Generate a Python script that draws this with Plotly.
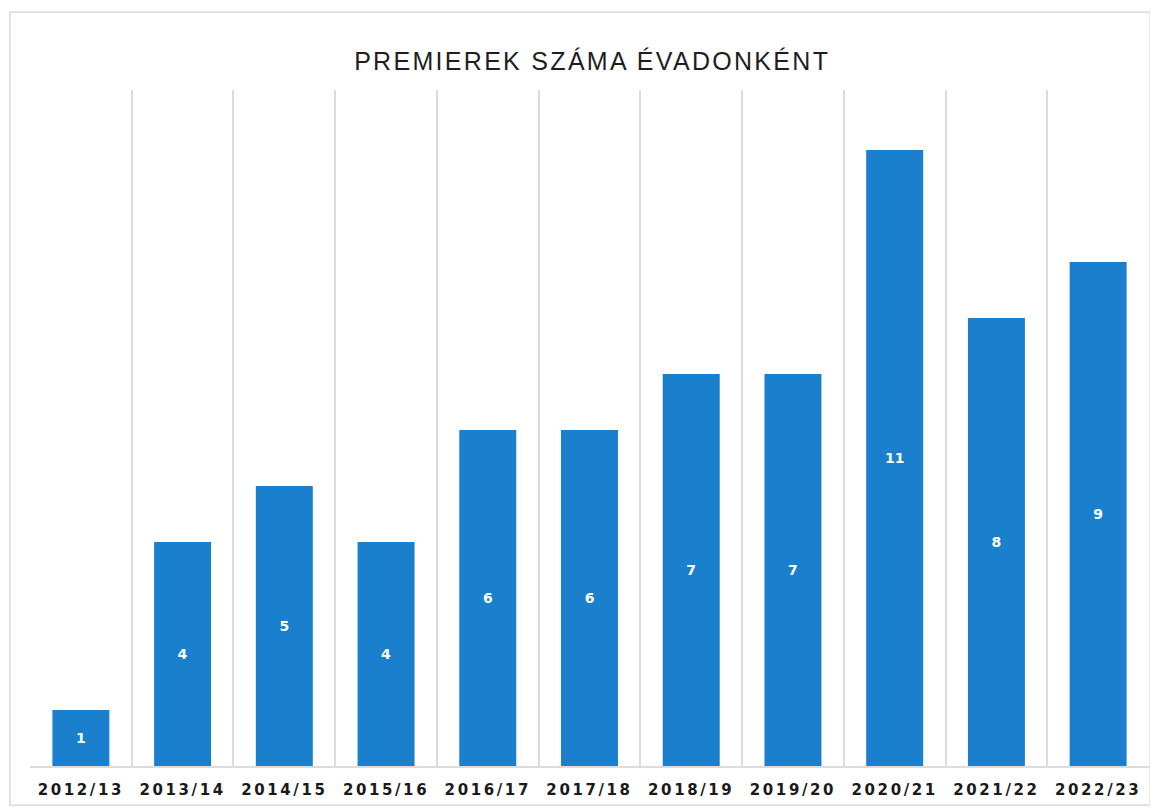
import plotly.graph_objects as go

# Premierek száma évadonként
seasons = ["2012/13", "2013/14", "2014/15", "2015/16", "2016/17", "2017/18",
           "2018/19", "2019/20", "2020/21", "2021/22", "2022/23"]
premieres = [1, 4, 5, 4, 6, 6, 7, 7, 11, 8, 9]

BAR_COLOR = "#1a7fcd"
GRID_COLOR = "#dcdcdc"

fig = go.Figure()

fig.add_trace(go.Bar(
    x=seasons,
    y=premieres,
    marker=dict(color=BAR_COLOR, line=dict(width=0)),
    text=[str(v) for v in premieres],
    textposition="inside",
    insidetextanchor="middle",
    textfont=dict(color="white", size=14, family="DejaVu Sans", weight="bold"),
    constraintext="none",
    hoverinfo="x+y",
))

# outer chart frame
fig.add_shape(type="rect", xref="paper", yref="paper",
              x0=-0.018, x1=1.001, y0=-0.058, y1=1.115,
              line=dict(color="#dadada", width=1.5), layer="below")

fig.update_layout(
    width=1150,
    height=801,
    title=dict(
        text="PREMIEREK SZÁMA ÉVADONKÉNT",
        x=0.508, xanchor="center",
        y=0.933, yanchor="middle",
        font=dict(family="Liberation Sans", size=25, color="#1e1e1e"),
    ),
    paper_bgcolor="white",
    plot_bgcolor="white",
    showlegend=False,
    bargap=0.44,
    margin=dict(l=22, r=9, t=82, b=43),
    xaxis=dict(
        type="category",
        tickson="boundaries",
        showgrid=True,
        gridcolor=GRID_COLOR,
        gridwidth=1.5,
        showline=True,
        linecolor=GRID_COLOR,
        linewidth=1.5,
        ticks="",
        ticklabelstandoff=9,
        tickfont=dict(family="DejaVu Sans", size=15, color="#1a1a1a", weight="bold"),
    ),
    yaxis=dict(
        range=[0, 12.07],
        showgrid=False,
        showticklabels=False,
        zeroline=False,
        showline=False,
    ),
)

post = """
document.querySelectorAll('.xtick text').forEach(function(t){t.style.letterSpacing='2.6px';});
document.querySelectorAll('.gtitle').forEach(function(t){t.style.letterSpacing='2.3px';});
"""

fig.write_html("out.html", post_script=post)
